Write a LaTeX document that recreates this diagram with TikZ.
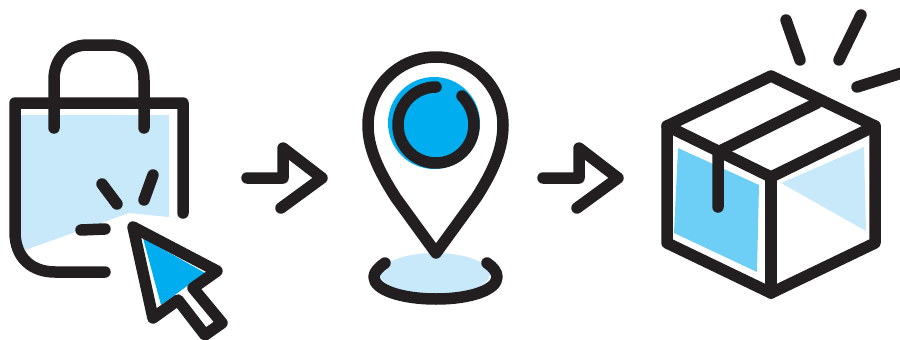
\documentclass[tikz,border=0pt]{standalone}
\definecolor{ink}{HTML}{231F20}
\definecolor{cyanfill}{HTML}{00AEEF}
\definecolor{midfill}{HTML}{6DCFF6}
\definecolor{palefill}{HTML}{C7E9FA}
\tikzset{stroke/.style={draw=ink,line width=11.5pt,line cap=round,line join=round}}
\begin{document}
\begin{tikzpicture}[x=1pt,y=-1pt]
\useasboundingbox (0,0) rectangle (900,340);
\clip (0,0) rectangle (900,340);
% bag
\fill[palefill] (20,115) -- (169,115) -- (169,217) -- (129,213) -- (25,250) .. controls (21,244) and (20,240) .. (20,232) -- cycle;
\draw[stroke] (183,213) -- (183,103) -- (15,103) -- (15,232) .. controls (15,258) and (32,272) .. (55,272) -- (105,272);
\draw[stroke] (54,128) -- (54,80) .. controls (54,58) and (68,45) .. (88,45) -- (110,45) .. controls (130,45) and (144,58) .. (144,80) -- (144,128);
\draw[stroke] (102,184) -- (117,204);
\draw[stroke] (153,175) -- (144,200);
\draw[stroke] (81,230) -- (105,229);
% cursor
\fill[cyanfill] (143,238) -- (205,273) -- (161,305) -- cycle;
\draw[stroke] (133,227) -- (217,271) -- (193,288) -- (222,323) -- (205,335) -- (178,300) -- (153,318) -- cycle;
% arrows
\draw[stroke] (247,178) -- (283,178) -- (283,148) -- (322,178) -- (281,208);
\draw[stroke] (543,178) -- (579,178) -- (579,148) -- (618,178) -- (577,208);
% pin
\fill[palefill] (435,274) ellipse[x radius=55,y radius=21];
\fill[cyanfill] (434,123) circle[radius=46];
\draw[stroke] (436,253) -- (396,198) .. controls (378,170) and (368,148) .. (368,125) .. controls (368,88) and (398,57) .. (436,57) .. controls (474,57) and (503,88) .. (503,125) .. controls (503,148) and (494,170) .. (476,198) -- cycle;
\draw[stroke] (436,87) .. controls (415,87) and (398,104) .. (398,125) .. controls (398,146) and (415,163) .. (436,163) .. controls (457,163) and (474,146) .. (474,125) .. controls (474,114) and (470,104) .. (462,96);
\draw[stroke] (385,263) .. controls (379,267) and (374,272) .. (374,277) .. controls (374,290) and (402,299) .. (436,299) .. controls (470,299) and (497,290) .. (497,277) .. controls (497,272) and (493,267) .. (487,263);
% box
\fill[midfill] (678,148) -- (759,185) -- (757,272) -- (674,233) -- cycle;
\fill[palefill] (781,183) -- (864,147) -- (866,231) -- cycle;
\draw[stroke] (771,76) -- (875,126) -- (875,243) -- (771,293) -- (667,243) -- (667,126) -- cycle;
\draw[stroke] (667,126) -- (771,177) -- (875,126);
\draw[stroke] (771,177) -- (771,293);
\draw[stroke] (817,103) -- (718,152) -- (718,207);
% sparks
\draw[stroke] (786,20) -- (800,60);
\draw[stroke] (861,15) -- (839,60);
\draw[stroke] (857,87) -- (905,72);
\end{tikzpicture}
\end{document}
